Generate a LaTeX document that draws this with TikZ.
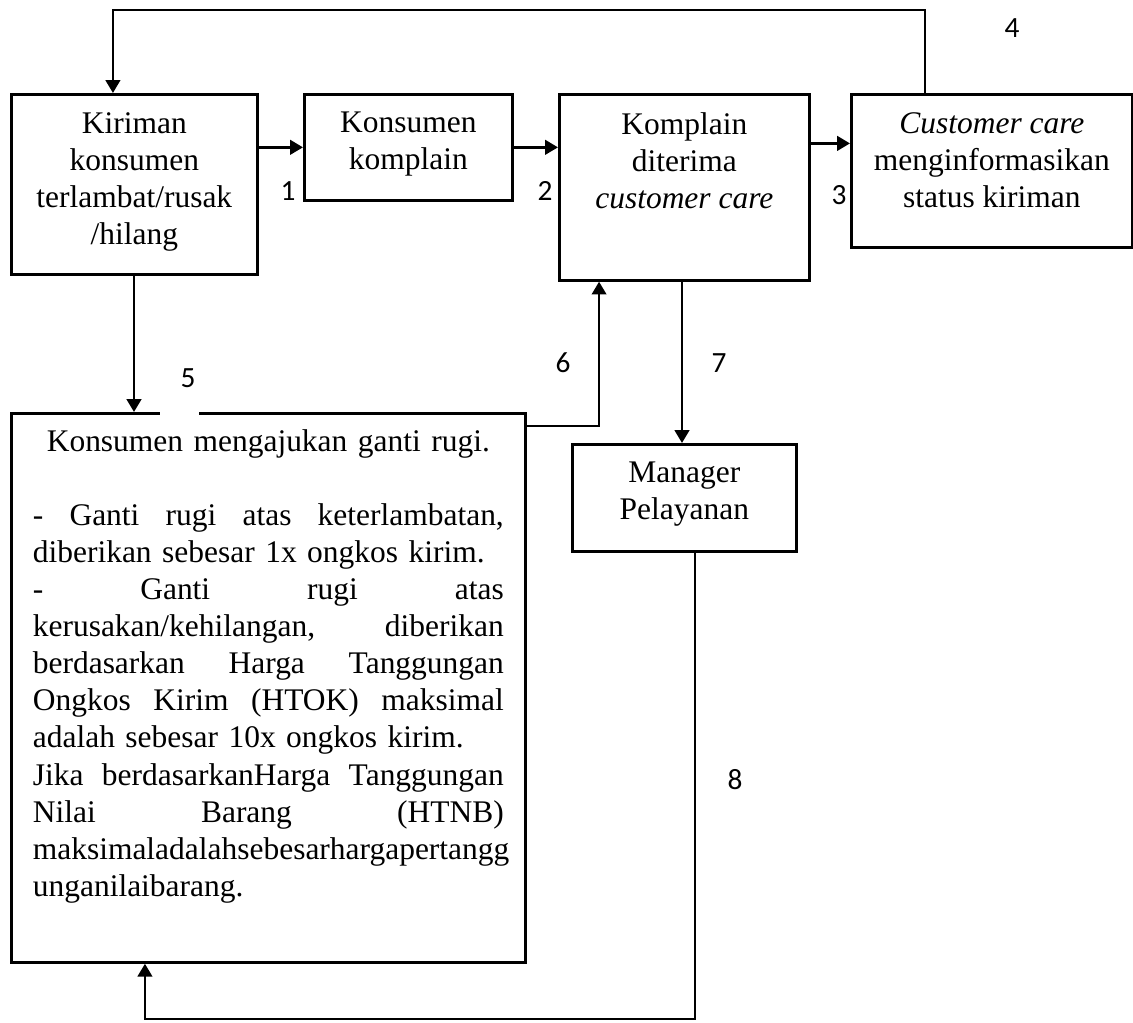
\documentclass[tikz,border=0pt]{standalone}
\usepackage{fontspec}
\setmainfont{Liberation Serif}
\newfontfamily\numfont{Carlito}
\usetikzlibrary{positioning,arrows.meta}
\newcommand{\boxfont}{\fontsize{11.8}{13.9}\selectfont}
\newlength{\gantiw}
\setlength{\gantiw}{176.6pt}
% one justified line of the big box
\newcommand{\jline}[1]{\makebox[\gantiw][s]{\spaceskip=0pt\xspaceskip=0pt\relax #1}}
\tikzset{
    flowbox/.style={draw, line width=1pt, anchor=north west, inner sep=0pt},
    boxtext/.style={font=\boxfont, align=center, inner sep=0pt},
    numlabel/.style={font=\numfont\fontsize{11}{13}\selectfont, inner sep=0pt},
    arrow/.style={-{Triangle[length=4.8pt, width=5.4pt]}, line width=1pt},
}

\begin{document}
\begin{tikzpicture}[x=0.375pt, y=-0.375pt]
\useasboundingbox (0,0) rectangle (1133,1023);
% boxes
\node[flowbox, minimum width=92.25pt, minimum height=67.5pt] (kiriman) at (10,93) {};
\node[flowbox, minimum width=78pt, minimum height=39.75pt] (konsumen) at (303,93) {};
\node[flowbox, minimum width=93.75pt, minimum height=69.75pt] (diterima) at (558,93) {};
\node[flowbox, minimum width=105.4pt, minimum height=57.4pt] (informasi) at (850,93) {};
\node[flowbox, minimum width=192.75pt, minimum height=205.9pt] (ganti) at (10,412) {};
\node[flowbox, minimum width=84pt, minimum height=40.1pt] (manager) at (571,443) {};
\node[fill=white, inner sep=0pt, minimum width=14.6pt, minimum height=2pt] (gap5) at (179.5,412) {};
% box texts
\node[boxtext, below=7pt of kiriman.north] (kirimantxt) {Kiriman\\konsumen\\terlambat/rusak\\/hilang};
\node[boxtext, below=7pt of konsumen.north] (konsumentxt) {Konsumen\\komplain};
\node[boxtext, below=7pt of diterima.north] (diterimatxt) {Komplain\\diterima\\\textit{customer care}};
\node[boxtext, below=7pt of informasi.north] (informasitxt) {\textit{Customer care}\\menginformasikan\\status kiriman};
\node[boxtext, below=7pt of manager.north] (managertxt) {Manager\\Pelayanan};
\node[boxtext, text width=\gantiw, align=left, below=6.4pt of ganti.north] (gantitxt) {%
\makebox[\gantiw]{Konsumen mengajukan ganti rugi.}\\[13.9pt]
\jline{- Ganti rugi atas keterlambatan,}\\
diberikan sebesar 1x ongkos kirim.\\
\jline{- Ganti rugi atas}\\
\jline{kerusakan/kehilangan, diberikan}\\
\jline{berdasarkan Harga Tanggungan}\\
\jline{Ongkos Kirim (HTOK) maksimal}\\
adalah sebesar 10x ongkos kirim.\\
\jline{Jika berdasarkanHarga Tanggungan}\\
\jline{Nilai Barang (HTNB)}\\
maksimaladalahsebesarhargapertangg\\
unganilaibarang.};
% connectors
\coordinate (top) at (0,10);
\coordinate (bottom) at (0,1019);
\coordinate (c3) at ([yshift=10.3pt]informasi.west);
\coordinate (d4) at ([xshift=28.1pt]informasi.north west);
\coordinate (a4) at ([xshift=38.6pt]kiriman.north west);
\coordinate (a5) at ([xshift=46.5pt]kiriman.south west);
\coordinate (e6) at ([yshift=-5.25pt]ganti.north east);
\coordinate (c6) at ([xshift=15.4pt]diterima.south west);
\coordinate (c7) at ([xshift=46.5pt]diterima.south west);
\coordinate (f8) at ([xshift=46.5pt]manager.south west);
\coordinate (e8) at ([xshift=50.6pt]ganti.south west);
\draw[arrow] (kiriman.east |- konsumen.west) -- (konsumen.west);
\draw[arrow] (konsumen.east) -- (konsumen.east -| diterima.west);
\draw[arrow] (c3 -| diterima.east) -- (c3);
\draw[arrow] (d4) -- (d4 |- top) -| (a4);
\draw[arrow] (a5) -- (a5 |- ganti.north);
\draw[arrow] (e6) -| (c6);
\draw[arrow] (c7) -- (c7 |- manager.north);
\draw[arrow] (f8) -- (f8 |- bottom) -| (e8);
% step numbers
\node[numlabel] (n1) at (288,191) {1};
\node[numlabel] (n2) at (545,191) {2};
\node[numlabel] (n3) at (839,195) {3};
\node[numlabel] (n4) at (1012,28) {4};
\node[numlabel] (n5) at (188,378) {5};
\node[numlabel] (n6) at (563,363) {6};
\node[numlabel] (n7) at (719,363) {7};
\node[numlabel] (n8) at (735,780) {8};
\end{tikzpicture}
\end{document}
